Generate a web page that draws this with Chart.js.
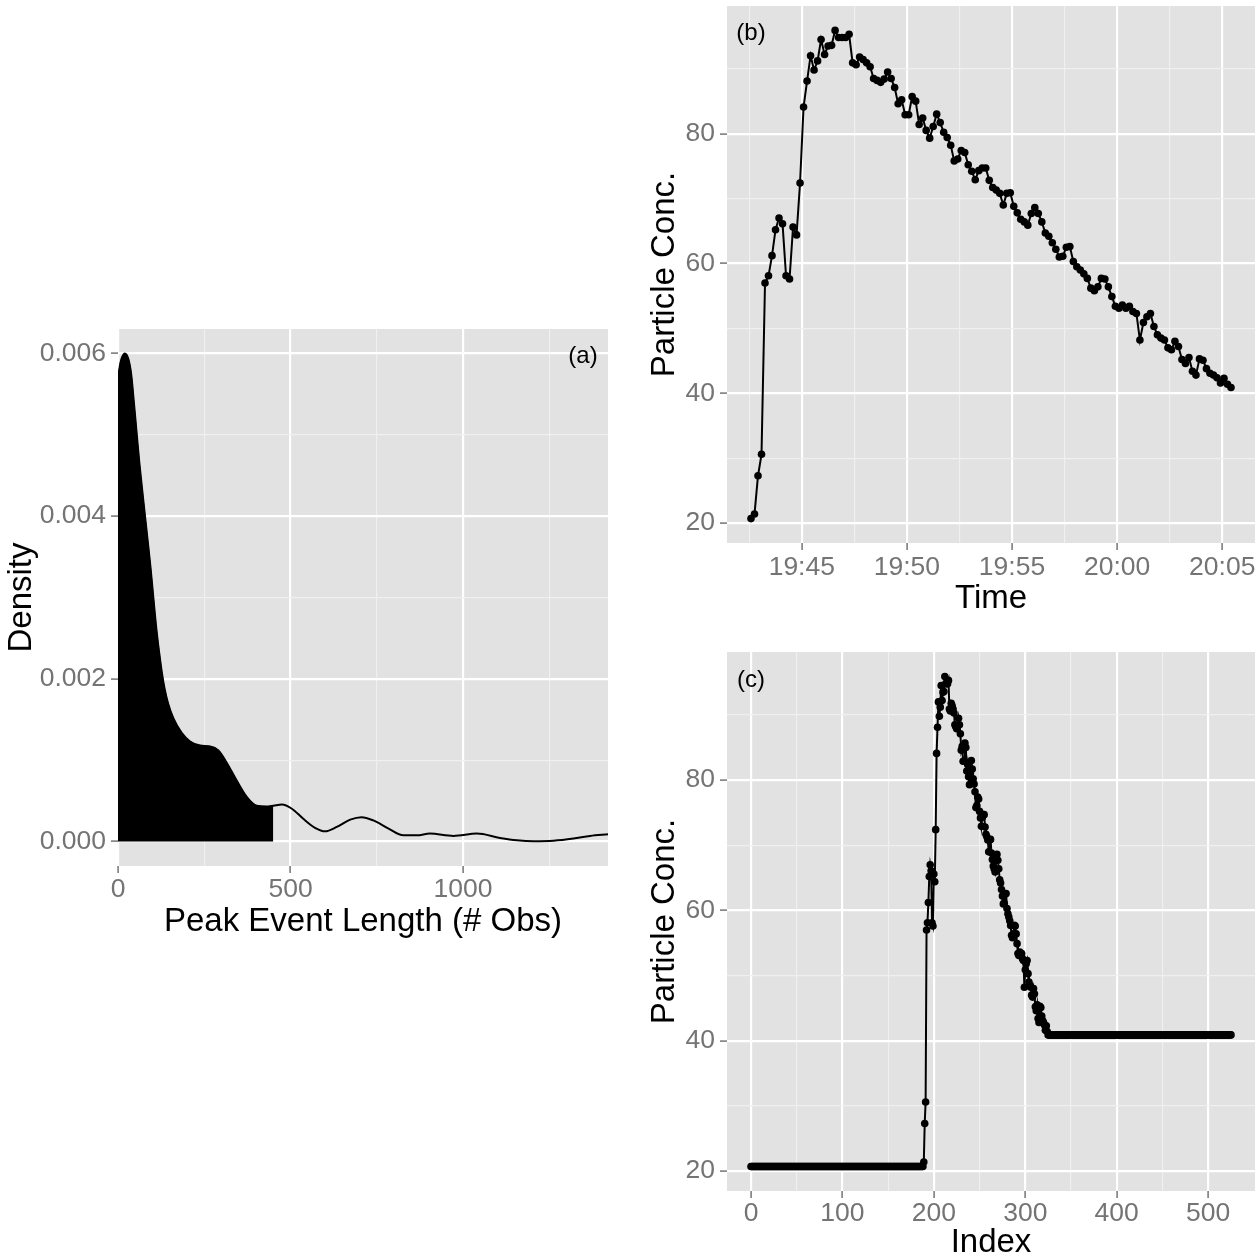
<!DOCTYPE html>
<html>
<head>
<meta charset="utf-8">
<script src="https://cdn.jsdelivr.net/npm/chart.js@4.4.1/dist/chart.umd.min.js"></script>
<style>
  html, body { margin: 0; padding: 0; background: #fff; }
  #page { position: relative; width: 1260px; height: 1260px; overflow: hidden; }
  canvas { position: absolute; }
</style>
</head>
<body>
<div id="page">
  <canvas id="densityChart" width="630" height="660" style="left:0;top:300px"></canvas>
  <canvas id="timeChart" width="630" height="630" style="left:630px;top:0"></canvas>
  <canvas id="indexChart" width="630" height="630" style="left:630px;top:630px"></canvas>
</div>
<script>
// Panel (a): density of peak event lengths, shaded up to fillLimit
const densityX = [0, 8, 20, 30, 38, 46, 54, 62, 78, 93, 112, 120, 127, 135, 145, 160, 184, 209, 238, 267, 291,
  315, 344, 373, 402, 431, 450, 475, 504, 537, 571, 600, 634, 673, 706, 740, 784, 827, 866, 904, 972,
  1040, 1107, 1156, 1204, 1262, 1320, 1368, 1420];
const densityY = [0.00570, 0.00590, 0.00600, 0.00593, 0.00575, 0.00540, 0.00502, 0.00465, 0.00401, 0.00342,
  0.00258, 0.00230, 0.00208, 0.00188, 0.00170, 0.00152, 0.00134, 0.00123, 0.00118, 0.00117, 0.00112,
  0.00097, 0.00075, 0.00055, 0.00044, 0.00043, 0.00044, 0.000456, 0.000404, 0.00028, 0.00017,
  0.000126, 0.00018, 0.00027, 0.00030, 0.00026, 0.00016, 0.000077, 0.000077, 0.000098, 0.00007,
  0.000098, 0.000045, 0.000016, 0.000004, 0.00001, 0.000037, 0.00007, 0.00009];
const fillLimit = 450;

// Panel (b): particle concentration, one reading every 10 s
const startTime = '19:42:35';
const stepSeconds = 10;
const concValues = [
  20.7, 21.4, 27.3, 30.6, 57.0, 58.1, 61.2, 65.2, 67.0, 66.1,
  58.1, 57.6, 65.6, 64.4, 72.4, 84.1, 88.1, 92.0, 89.8, 91.2,
  94.5, 92.2, 93.5, 93.6, 95.9, 94.8, 94.8, 94.8, 95.3, 90.9,
  90.6, 91.8, 91.4, 90.9, 90.3, 88.5, 88.2, 87.9, 88.4, 89.5,
  88.5, 87.1, 84.6, 85.2, 82.9, 82.9, 85.7, 85.0, 81.4, 82.4,
  80.5, 79.3, 81.1, 83.0, 81.7, 80.2, 79.4, 78.2, 75.8, 76.1,
  77.4, 77.1, 75.2, 74.2, 72.9, 74.3, 74.7, 74.7, 72.8, 71.7,
  71.3, 70.8, 69.0, 70.8, 70.9, 68.8, 67.8, 66.8, 66.4, 65.9,
  67.7, 68.6, 67.7, 66.4, 64.7, 64.2, 63.2, 62.2, 61.0, 61.1,
  62.5, 62.6, 60.3, 59.5, 59.0, 58.4, 57.7, 56.2, 55.8, 56.4,
  57.7, 57.6, 56.4, 54.9, 53.4, 53.1, 53.6, 53.1, 53.4, 52.6,
  52.3, 48.2, 50.9, 51.8, 52.3, 50.3, 49.0, 48.5, 48.2, 47.0,
  46.7, 48.0, 47.2, 45.2, 44.6, 45.5, 43.4, 42.8, 45.3, 45.1,
  43.8, 43.1, 42.8, 42.4, 41.6, 42.3, 41.4, 40.9
];

// Panel (c): same readings on the full index, with flat runs before and after
const leadCount = 188;
const tailCount = 200;

// Tick values (major ones get labels, minor ones only a faint grid line)
const densityXTicks = [0, 500, 1000];
const densityXMinor = [250, 750, 1250];
const densityYTicks = [0, 0.002, 0.004, 0.006];
const densityYMinor = [0.001, 0.003, 0.005];
const timeTicks = ['19:45', '19:50', '19:55', '20:00', '20:05'];
const timeMinor = ['19:42:30', '19:47:30', '19:52:30', '19:57:30', '20:02:30'];
const concTicks = [20, 40, 60, 80];
const concMinor = [30, 50, 70, 90];
const indexTicks = [0, 100, 200, 300, 400, 500];
const indexMinor = [50, 150, 250, 350, 450];

const FONT = '"Liberation Sans", Arial, Helvetica, sans-serif';
const PANEL_BG = '#E2E2E2';
const MINOR_GRID = '#F0F0F0';
const TICK_GREY = '#747474';

Chart.defaults.font.family = FONT;

function toSeconds(hms) {
    const p = hms.split(':').map(Number);
    return p[0] * 3600 + p[1] * 60 + (p[2] || 0);
}

function hhmm(sec) {
    const h = Math.floor(sec / 3600);
    const m = Math.round((sec % 3600) / 60);
    return String(h).padStart(2, '0') + ':' + String(m).padStart(2, '0');
}

// ggplot-style 5% expansion of a data range
function expand(lo, hi) {
    const d = (hi - lo) * 0.05;
    return [lo - d, hi + d];
}

// Gray panel behind the grid
const panelBackground = {
    id: 'panelBackground',
    beforeDraw(chart) {
        const { ctx, chartArea: a } = chart;
        ctx.save();
        ctx.fillStyle = PANEL_BG;
        ctx.fillRect(a.left, a.top, a.right - a.left, a.bottom - a.top);
        ctx.restore();
    }
};

// "(a)", "(b)", "(c)" tags inside the panels
const panelLabel = {
    id: 'panelLabel',
    afterDatasetsDraw(chart, args, opts) {
        const { ctx, chartArea: a } = chart;
        ctx.save();
        ctx.font = '24px ' + FONT;
        ctx.fillStyle = '#000';
        ctx.textAlign = 'center';
        ctx.textBaseline = 'middle';
        const x = opts.fromRight ? a.right - opts.dx : a.left + opts.dx;
        ctx.fillText(opts.text, x, a.top + opts.dy);
        ctx.restore();
    }
};

// One axis, with fixed box size so the plot areas line up like the figure
function axis(o) {
    const isMinor = c => c.tick && c.tick.minor;
    return {
        type: 'linear',
        min: o.range[0],
        max: o.range[1],
        afterBuildTicks: s => {
            s.ticks = o.major.map(v => ({ value: v }))
                .concat(o.minor.map(v => ({ value: v, minor: true })));
        },
        afterFit: s => {
            if (s.isHorizontal()) s.height = o.size; else s.width = o.size;
            s.paddingLeft = 0; s.paddingRight = 0; s.paddingTop = 0; s.paddingBottom = 0;
        },
        border: { display: false },
        grid: {
            color: c => isMinor(c) ? MINOR_GRID : '#FFFFFF',
            lineWidth: c => isMinor(c) ? 1.2 : 2.2,
            tickColor: c => isMinor(c) ? 'rgba(0,0,0,0)' : TICK_GREY,
            tickWidth: c => isMinor(c) ? 0 : 1.5,
            tickLength: 7
        },
        ticks: {
            autoSkip: false,
            maxRotation: 0,
            padding: o.tickPad,
            color: TICK_GREY,
            font: { size: 26.5 },
            callback: (v, i, t) => t[i].minor ? '' : o.format(v)
        },
        title: {
            display: true,
            text: o.title,
            color: '#000',
            font: { size: 33, lineHeight: 1 },
            padding: o.titlePad
        }
    };
}

const baseOptions = {
    responsive: false,
    animation: false,
    events: [],
    plugins: { legend: { display: false }, tooltip: { enabled: false } }
};

// ---- (a) density ----
const densityPoints = densityX.map((x, i) => ({ x: x, y: densityY[i] }));
const densityRangeY = expand(0, Math.max(...densityY));

new Chart(document.getElementById('densityChart'), {
    type: 'line',
    data: {
        datasets: [{
            data: densityPoints.filter(p => p.x <= fillLimit),
            fill: 'origin',
            backgroundColor: '#000',
            borderColor: '#000',
            borderWidth: 1,
            pointRadius: 0,
            cubicInterpolationMode: 'monotone'
        }, {
            data: densityPoints,
            fill: false,
            borderColor: '#000',
            borderWidth: 2,
            pointRadius: 0,
            cubicInterpolationMode: 'monotone'
        }]
    },
    options: {
        ...baseOptions,
        layout: { padding: { left: 0, top: 29, right: 22, bottom: 0 } },
        scales: {
            x: axis({
                range: [0, 1420], major: densityXTicks, minor: densityXMinor, size: 94,
                tickPad: 1, format: v => String(v),
                title: 'Peak Event Length (# Obs)', titlePad: { top: 0, bottom: 22 }
            }),
            y: axis({
                range: densityRangeY, major: densityYTicks, minor: densityYMinor, size: 118,
                tickPad: 5, format: v => v.toFixed(3),
                title: 'Density', titlePad: { top: 5, bottom: 0 }
            })
        },
        plugins: {
            ...baseOptions.plugins,
            panelLabel: { text: '(a)', fromRight: true, dx: 25, dy: 27 }
        }
    },
    plugins: [panelBackground, panelLabel]
});

// ---- (b) concentration against time ----
const t0 = toSeconds(startTime);
const timePoints = concValues.map((v, i) => ({ x: t0 + i * stepSeconds, y: v }));
const timeRange = expand(t0, t0 + (concValues.length - 1) * stepSeconds);
const concRange = expand(Math.min(...concValues), Math.max(...concValues));

const seriesStyle = {
    borderColor: '#000',
    borderWidth: 2,
    pointRadius: 3.8,
    pointBackgroundColor: '#000',
    pointBorderWidth: 0,
    tension: 0,
    fill: false
};

new Chart(document.getElementById('timeChart'), {
    type: 'line',
    data: { datasets: [{ data: timePoints, ...seriesStyle }] },
    options: {
        ...baseOptions,
        layout: { padding: { left: 0, top: 6, right: 5, bottom: 0 } },
        scales: {
            x: axis({
                range: timeRange, major: timeTicks.map(toSeconds), minor: timeMinor.map(toSeconds), size: 87,
                tickPad: 2, format: hhmm,
                title: 'Time', titlePad: { top: 0, bottom: 15 }
            }),
            y: axis({
                range: concRange, major: concTicks, minor: concMinor, size: 97,
                tickPad: 5, format: v => String(v),
                title: 'Particle Conc.', titlePad: { top: 18, bottom: 0 }
            })
        },
        plugins: {
            ...baseOptions.plugins,
            panelLabel: { text: '(b)', fromRight: false, dx: 24, dy: 27 }
        }
    },
    plugins: [panelBackground, panelLabel]
});

// ---- (c) concentration against index ----
const indexValues = Array(leadCount).fill(concValues[0])
    .concat(concValues, Array(tailCount).fill(concValues[concValues.length - 1]));
const indexPoints = indexValues.map((v, i) => ({ x: i, y: v }));

new Chart(document.getElementById('indexChart'), {
    type: 'line',
    data: { datasets: [{ data: indexPoints, ...seriesStyle }] },
    options: {
        ...baseOptions,
        layout: { padding: { left: 0, top: 22, right: 5, bottom: 0 } },
        scales: {
            x: axis({
                range: expand(0, indexValues.length - 1), major: indexTicks, minor: indexMinor, size: 69,
                tickPad: 0, format: v => String(v),
                title: 'Index', titlePad: { top: 0, bottom: 1 }
            }),
            y: axis({
                range: concRange, major: concTicks, minor: concMinor, size: 97,
                tickPad: 5, format: v => String(v),
                title: 'Particle Conc.', titlePad: { top: 18, bottom: 0 }
            })
        },
        plugins: {
            ...baseOptions.plugins,
            panelLabel: { text: '(c)', fromRight: false, dx: 24, dy: 28 }
        }
    },
    plugins: [panelBackground, panelLabel]
});
</script>
</body>
</html>
